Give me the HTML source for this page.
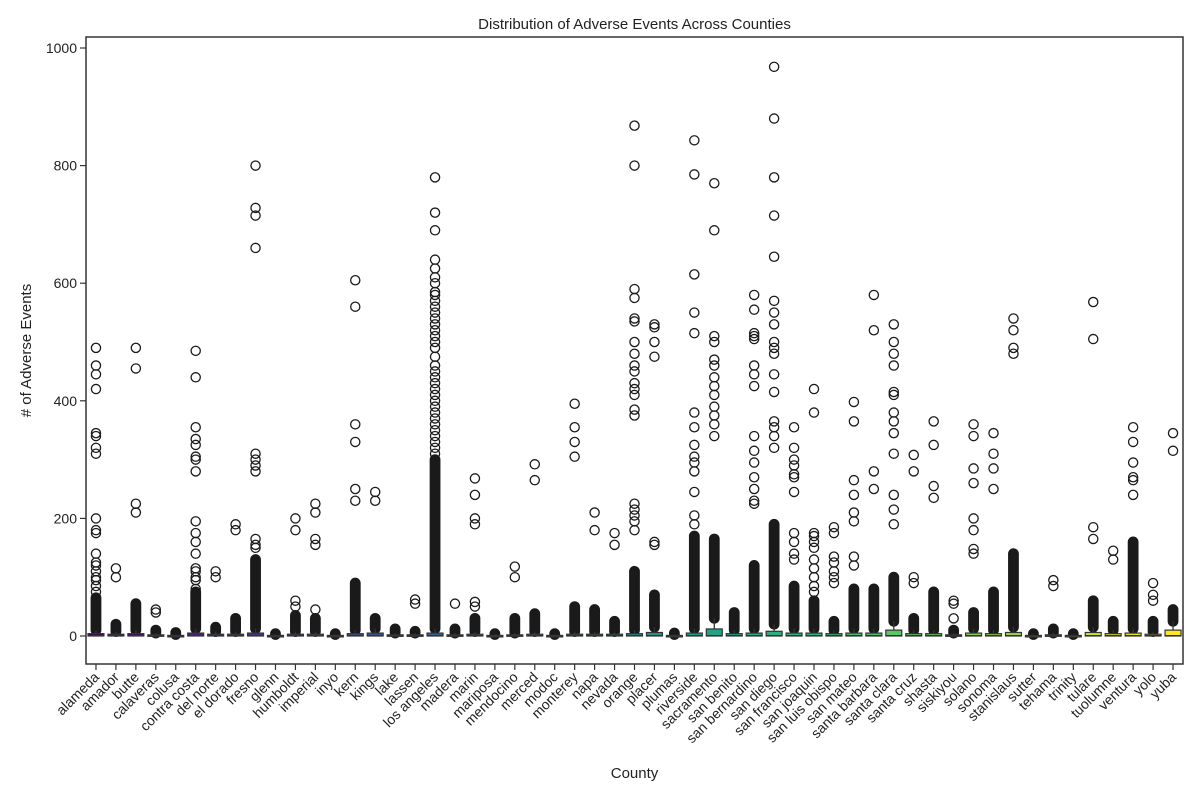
<!DOCTYPE html>
<html><head><meta charset="utf-8">
<style>body{margin:0;background:#fff}svg text{font-family:"Liberation Sans",sans-serif;fill:#222}</style>
</head><body>
<svg id="chart" width="1200" height="800" xmlns="http://www.w3.org/2000/svg"></svg>
<script>
const counties=["alameda","amador","butte","calaveras","colusa","contra costa","del norte","el dorado","fresno","glenn","humboldt","imperial","inyo","kern","kings","lake","lassen","los angeles","madera","marin","mariposa","mendocino","merced","modoc","monterey","napa","nevada","orange","placer","plumas","riverside","sacramento","san benito","san bernardino","san diego","san francisco","san joaquin","san luis obispo","san mateo","santa barbara","santa clara","santa cruz","shasta","siskiyou","solano","sonoma","stanislaus","sutter","tehama","trinity","tulare","tuolumne","ventura","yolo","yuba"];
const q3Values=[4,3,4,2,1,5,3,3,5,1,3,3,1,4,5,2,2,5,2,3,1,2,3,1,3,3,3,4,6,1,5,12,4,5,8,5,5,4,5,5,10,4,4,2,5,4,6,1,2,1,6,4,5,3,10];
const denseMax=[65,20,55,10,6,75,15,30,130,4,35,30,4,90,30,12,8,300,12,30,4,30,38,4,50,45,25,110,70,5,170,165,40,120,190,85,60,25,80,80,100,30,75,10,40,75,140,4,12,4,60,25,160,25,45];
const outliers=[
[75,85,95,100,110,120,125,140,175,180,200,310,320,340,345,420,445,460,490],
[100,115],[210,225,455,490],[40,45],[],
[80,95,100,110,115,140,160,175,195,280,300,305,325,335,355,440,485],
[100,110],[180,190],[150,155,165,280,290,300,310,660,715,728,800],[],
[50,60,180,200],[45,155,165,210,225],[],[230,250,330,360,560,605],[230,245],[],[55,62],
[310,320,330,340,350,360,370,380,390,400,410,420,430,440,450,460,475,490,500,510,520,530,540,550,560,570,580,585,600,610,625,640,690,720,780],
[55],[50,58,190,200,240,268],[],[100,118],[265,292],[],[305,330,355,395],[180,210],[155,175],
[180,195,205,215,225,375,385,410,420,430,450,460,480,500,535,540,575,590,800,868],
[155,160,475,500,525,530],[],
[190,205,245,280,295,305,325,355,380,515,550,615,785,843],
[340,360,375,390,410,425,440,460,470,500,510,690,770],[],
[225,230,250,270,295,315,340,425,445,460,505,510,515,555,580],
[320,340,355,365,415,445,480,490,500,530,550,570,645,715,780,880,968],
[130,140,160,175,245,270,275,290,300,320,355],
[75,85,100,115,130,150,160,170,175,380,420],
[90,100,110,125,135,175,185],
[120,135,195,210,240,265,365,398],
[250,280,520,580],
[190,215,240,310,345,365,380,410,415,460,480,500,530],
[90,100,280,308],[235,255,325,365],[30,55,60],
[140,148,180,200,260,285,340,360],[250,285,310,345],[480,490,520,540],[],[85,95],[],
[165,185,505,568],[130,145],[240,265,270,295,330,355],[60,70,90],[315,345]];
const yTicks=[0,200,400,600,800,1000];

const NS="http://www.w3.org/2000/svg",svg=document.getElementById('chart');
const L=86,R=1183,T=37,B=664;
const bw=(R-L)/counties.length;
const xS=i=>L+(i+0.5)*bw;
const yS=v=>636-v*0.588;
function mk(t,a,p){const e=document.createElementNS(NS,t);for(const k in a)e.setAttribute(k,a[k]);(p||svg).appendChild(e);return e;}
const vir=[[68,1,84],[72,40,120],[62,74,137],[49,104,142],[38,130,142],[31,158,137],[53,183,121],[109,205,89],[180,222,44],[253,231,37]];
function col(t){const s=t*(vir.length-1),i=Math.min(Math.floor(s),vir.length-2),f=s-i;const c=vir[i].map((v,k)=>Math.round(v+(vir[i+1][k]-v)*f));return `rgb(${c})`;}
const t=mk('text',{x:(L+R)/2,y:29,'text-anchor':'middle','font-size':15});t.textContent='Distribution of Adverse Events Across Counties';


yTicks.forEach(v=>{
  mk('line',{x1:L-6,x2:L,y1:yS(v),y2:yS(v),stroke:'#333','stroke-width':1.2});
  const tx=mk('text',{x:L-9,y:yS(v)+5,'text-anchor':'end','font-size':14});tx.textContent=v;
  
  
});
const yl=mk('text',{x:0,y:0,transform:`translate(31,${(T+B)/2}) rotate(-90)`,'text-anchor':'middle','font-size':15});yl.textContent='# of Adverse Events';


const xl=mk('text',{x:(L+R)/2,y:778,'text-anchor':'middle','font-size':15});xl.textContent='County';


counties.forEach((c,i)=>{
  const x=xS(i),g=mk('g',{});
  
  
  const top=denseMax[i];
  // dense outlier band drawn as solid capsule
  if(top>q3Values[i]*2.5){
    mk('rect',{x:x-5.4,y:yS(top)-5.4,width:10.8,height:yS(q3Values[i]*2.5)-yS(top)+10.8,rx:5.4,fill:'#1a1a1a'},g);
  }
  outliers[i].forEach(v=>mk('circle',{cx:x,cy:yS(v),r:4.6,fill:'none',stroke:'#1a1a1a','stroke-width':1.3},g));
  mk('line',{x1:x,x2:x,y1:yS(q3Values[i]),y2:yS(q3Values[i]*2.5),stroke:'#333','stroke-width':1.3},g);
  mk('rect',{x:x-bw*0.4,y:yS(q3Values[i]),width:bw*0.8,height:Math.max(yS(0)-yS(q3Values[i]),1.5),fill:col(i/(counties.length-1)),stroke:'#333','stroke-width':1.2},g);
  mk('line',{x1:x-bw*0.4,x2:x+bw*0.4,y1:yS(0.5),y2:yS(0.5),stroke:'#333','stroke-width':1.3},g);
  mk('line',{x1:x,x2:x,y1:B,y2:B+6,stroke:'#333','stroke-width':1.2});
  const lb=mk('text',{x:0,y:0,transform:`translate(${x+4},${B+14}) rotate(-45)`,'text-anchor':'end','font-size':14});lb.textContent=c;
  
  
});
const fr=mk('rect',{x:L,y:T,width:R-L,height:B-T,fill:'none',stroke:'#333','stroke-width':1.5});


</script>
</body></html>
